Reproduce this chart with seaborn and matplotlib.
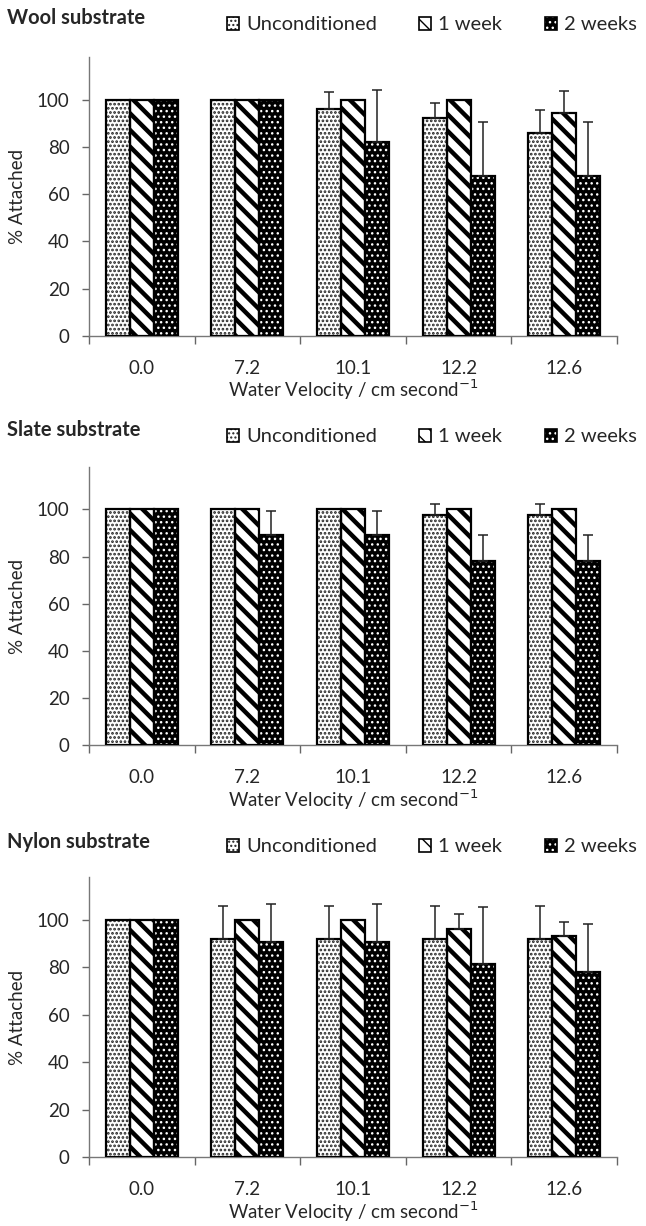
import numpy as np
import pandas as pd
import matplotlib
matplotlib.use("Agg")
import matplotlib.pyplot as plt
from matplotlib.patches import Patch
import seaborn as sns

# ---- data ----
velocities = ["0.0", "7.2", "10.1", "12.2", "12.6"]
groups = ["Unconditioned", "1 week", "2 weeks"]
substrates = ["Wool substrate", "Slate substrate", "Nylon substrate"]

wool_mean = {
    "Unconditioned": [100, 100, 96, 92, 86],
    "1 week": [100, 100, 100, 100, 94.5],
    "2 weeks": [100, 100, 82, 67.5, 67.5],
}
wool_err = {
    "Unconditioned": [0, 0, 7, 6.5, 9.5],
    "1 week": [0, 0, 0, 0, 9],
    "2 weeks": [0, 0, 22, 23, 23],
}
slate_mean = {
    "Unconditioned": [100, 100, 100, 97.5, 97.5],
    "1 week": [100, 100, 100, 100, 100],
    "2 weeks": [100, 89, 89, 78, 78],
}
slate_err = {
    "Unconditioned": [0, 0, 0, 4.7, 4.7],
    "1 week": [0, 0, 0, 0, 0],
    "2 weeks": [0, 10.5, 10.5, 11, 11],
}
nylon_mean = {
    "Unconditioned": [100, 91.7, 91.7, 91.7, 91.7],
    "1 week": [100, 100, 100, 96, 93],
    "2 weeks": [100, 90.5, 90.5, 81.5, 77.8],
}
nylon_err = {
    "Unconditioned": [0, 14, 14, 14, 14],
    "1 week": [0, 0, 0, 6.5, 6],
    "2 weeks": [0, 16, 16, 24, 20.5],
}
means = [wool_mean, slate_mean, nylon_mean]
errs = [wool_err, slate_err, nylon_err]

# facecolor, hatch colour, hatch, hatch linewidth
styles = {
    "Unconditioned": ("white", "#222222", "....", 1.3),
    "1 week": ("white", "black", "\\\\", 3.2),
    "2 weeks": ("black", "white", "...", 1.0),
}


def style_patch(p, g):
    fc, hc, hatch, hlw = styles[g]
    p.set_facecolor(fc)
    p.set_edgecolor(hc)
    p.set_hatch(hatch)
    if hasattr(p, "set_hatch_linewidth"):
        p.set_hatch_linewidth(hlw)


sns.set_style("white")
plt.rcParams["font.family"] = ["Lato", "DejaVu Sans"]

W, H = 646, 1226
fig = plt.figure(figsize=(W / 100, H / 100), dpi=100)

# axes boxes in pixels: (y of zero line, y of top of axis)
boxes = [(336, 57), (745, 467), (1157, 877)]
title_y = [18, 430, 842]
legend_y = [25, 437, 847]
left, right = 89, 617
YMAX = 118

for i, name in enumerate(substrates):
    y0, y1 = boxes[i]
    ax = fig.add_axes([left / W, 1 - y0 / H, (right - left) / W, (y0 - y1) / H])

    df = pd.DataFrame([
        {"vel": v, "group": g, "val": means[i][g][k]}
        for g in groups for k, v in enumerate(velocities)
    ])
    sns.barplot(data=df, x="vel", y="val", hue="group", order=velocities,
                hue_order=groups, width=0.68, gap=0, errorbar=None,
                palette=["white"] * 3, ax=ax, legend=False)

    for cont, g in zip(ax.containers, groups):
        for k, bar in enumerate(cont):
            style_patch(bar, g)
            bar.set_linewidth(0)
            # black outline on top of the hatch
            ax.add_patch(plt.Rectangle(bar.get_xy(), bar.get_width(), bar.get_height(),
                                       fill=False, edgecolor="black", lw=1.6, zorder=3))
            e = errs[i][g][k]
            if e > 0:
                xc = bar.get_x() + bar.get_width() / 2
                ax.errorbar(xc, bar.get_height(), yerr=[[0], [e]], fmt="none",
                            ecolor="#222222", elinewidth=1.1, capsize=3.6, capthick=1.1,
                            zorder=4)

    ax.set_ylim(0, YMAX)
    ax.set_xlim(-0.5, 4.5)
    ax.set_yticks([0, 20, 40, 60, 80, 100])
    ax.set_xticks(range(len(velocities)))
    ax.set_xticklabels(velocities)
    ax.set_xticks(np.arange(-0.5, 5, 1), minor=True)
    ax.tick_params(axis="x", which="major", length=0, labelsize=13.5, pad=17)
    ax.tick_params(axis="x", which="minor", length=6, width=1, color="#666666",
                   direction="out", bottom=True)
    ax.tick_params(axis="y", length=5, width=1, color="#666666", direction="out",
                   left=True, labelsize=13.5, pad=9)
    for s in ["top", "right"]:
        ax.spines[s].set_visible(False)
    for s in ["left", "bottom"]:
        ax.spines[s].set_color("#777777")
        ax.spines[s].set_linewidth(1)
    ax.set_ylabel("% Attached", fontsize=13.5)
    ax.yaxis.set_label_coords((26 - left) / (right - left), 0.5)
    ax.set_xlabel("Water Velocity / cm second$^{-1}$", fontsize=13.5)
    ax.xaxis.set_label_coords(0.5, -42 / (y0 - y1))

    fig.text(7 / W, 1 - title_y[i] / H, name, fontsize=14.5, fontweight="bold",
             va="center", ha="left")

    handles = []
    for g in groups:
        p = Patch(linewidth=0)
        style_patch(p, g)
        outline = Patch(facecolor="none", edgecolor="black", linewidth=1.2)
        handles.append((p, outline))
    fig.legend(handles, groups, loc="center left", ncol=3, frameon=False,
               bbox_to_anchor=(227 / W, 1 - legend_y[i] / H),
               bbox_transform=fig.transFigure, fontsize=14.5, handlelength=0.6,
               handleheight=0.6, handletextpad=0.35, columnspacing=2.1,
               borderpad=0, borderaxespad=0)

fig.savefig("out.png", dpi=100)
